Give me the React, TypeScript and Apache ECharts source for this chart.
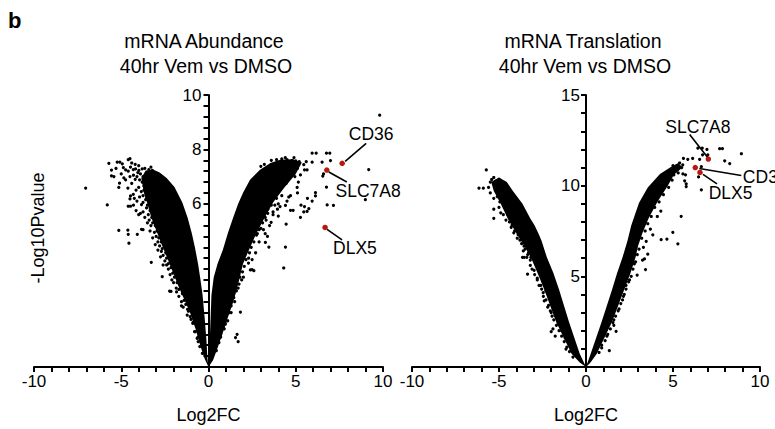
import React, { useEffect, useRef } from "react";
import * as echarts from "echarts";

const FONT = "'Liberation Sans', Arial, Helvetica, sans-serif";

// tick labels shown
const xTickLabels = [-10, -5, 0, 5, 10];
const abundanceYLabels = [6, 8, 10];
const translationYLabels = [5, 10, 15];

// Dense cores of the volcano arms (outline vertices in data units)
const abundanceNegCore: [number, number][] = [
  [0, 0], [-0.06, 0.3], [-0.12, 1.0], [-0.22, 1.8], [-0.34, 2.65], [-0.47, 3.25], [-0.6, 3.8],
  [-0.78, 4.4], [-0.95, 4.9], [-1.2, 5.5], [-1.5, 6.05], [-1.95, 6.62], [-2.4, 6.95], [-2.8, 7.15],
  [-3.15, 7.25], [-3.6, 7.22], [-3.85, 6.95], [-3.7, 6.4], [-3.5, 6.0], [-3.28, 5.5], [-2.98, 5.0],
  [-2.68, 4.5], [-2.36, 4.0], [-2.05, 3.5], [-1.74, 3.0], [-1.4, 2.5], [-1.06, 2.0], [-0.74, 1.4],
  [-0.48, 0.8], [-0.22, 0.3],
];
const abundancePosCore: [number, number][] = [
  [0, 0], [0.05, 0.6], [0.1, 1.45], [0.17, 2.65], [0.3, 3.3], [0.52, 3.8], [0.82, 4.3], [1.1, 4.9],
  [1.4, 5.47], [1.7, 6.0], [1.98, 6.41], [2.38, 6.88], [2.95, 7.25], [3.55, 7.5], [4.1, 7.62],
  [4.8, 7.64], [5.35, 7.52], [5.0, 7.1], [4.35, 6.6], [3.7, 6.05], [3.2, 5.47], [2.72, 4.88],
  [2.32, 4.3], [1.98, 3.8], [1.68, 3.0], [1.42, 2.4], [1.1, 1.8], [0.84, 1.3], [0.52, 0.7], [0.26, 0.25],
];
const translationNegCore: [number, number][] = [
  [0, 0], [-0.36, 0.73], [-0.98, 2.5], [-1.55, 4.27], [-1.88, 5.2], [-2.25, 6.05], [-2.55, 6.95],
  [-2.7, 7.3], [-2.95, 7.8], [-3.2, 8.19], [-3.65, 9.0], [-4.2, 9.7], [-4.55, 10.2], [-5.0, 10.45],
  [-5.45, 10.2], [-5.3, 9.7], [-4.9, 9.0], [-4.5, 8.19], [-3.95, 7.29], [-3.5, 6.6], [-3.15, 6.0],
  [-2.75, 5.1], [-2.4, 4.27], [-1.72, 2.5], [-0.84, 0.75], [-0.36, 0.25],
];
const translationPosCore: [number, number][] = [
  [0, 0], [0.27, 0.73], [0.9, 2.5], [1.5, 4.27], [1.78, 5.16], [2.1, 6.05], [2.38, 6.95],
  [2.6, 7.8], [2.85, 8.5], [3.05, 9.06], [3.55, 9.9], [4.25, 10.65], [4.9, 11.05], [5.3, 11.25],
  [5.55, 11.0], [5.05, 10.6], [4.7, 10.0], [4.1, 9.1], [3.6, 8.2], [3.25, 7.4], [3.0, 6.7],
  [2.85, 6.05], [2.55, 5.16], [2.2, 4.27], [1.5, 2.5], [0.62, 0.73], [0.26, 0.25],
];

// Individual genes outside the dense cores
const abundancePoints: [number, number][] = [
  [-7.04, 6.58], [-5.8, 5.96], [-5.71, 7.49], [-5.56, 7.24], [-5.56, 7.03], [-5.42, 7.0], [-5.23, 7.53],
  [-5.08, 7.53], [-4.94, 7.47], [-4.6, 7.62], [-4.5, 7.66], [-4.88, 7.33], [-4.75, 7.25], [-4.6, 7.2],
  [-4.47, 7.35], [-4.31, 7.26], [-4.18, 7.28], [-4.05, 7.15], [-3.99, 7.23], [-3.8, 7.28], [-3.65, 7.3],
  [-3.42, 7.26], [-3.22, 7.23], [-5.1, 6.76], [-5.14, 6.6], [-4.75, 6.88], [-4.62, 6.58], [-4.47, 6.29],
  [-4.5, 6.18], [-4.47, 5.91], [-4.6, 5.91], [-4.31, 6.35], [-3.84, 5.97], [-3.75, 6.05], [-4.0, 5.6],
  [-3.9, 5.65], [-3.75, 5.7], [-4.5, 7.0], [-4.3, 7.05], [-4.1, 7.0], [-3.95, 6.88], [-3.75, 7.0],
  [-3.6, 6.85], [-4.0, 6.6], [-3.85, 6.45], [-3.75, 6.3], [-3.6, 6.15], [-3.55, 5.85], [-3.45, 5.6],
  [-3.4, 5.4], [-3.3, 5.2], [-3.2, 5.3], [-3.1, 4.95], [-3.0, 4.8], [-2.9, 4.6], [-2.8, 4.45],
  [-2.7, 4.25], [-2.6, 4.1], [-2.5, 3.9], [-2.4, 3.75], [-2.3, 3.6], [-2.2, 3.4], [-2.1, 3.2],
  [-2.0, 3.1], [-1.85, 2.9], [-1.7, 2.6], [-1.55, 2.4], [-1.45, 2.2],
  [-5.14, 5.02], [-4.62, 5.03], [-4.6, 4.88], [-4.56, 4.55], [-4.08, 4.88], [-3.84, 5.06], [-3.75, 5.05],
  [-3.28, 3.85], [-2.65, 3.32], [-2.23, 2.79], [-2.15, 2.78], [-1.83, 2.76], [-1.55, 2.25], [-1.2, 2.12],
  [-1.1, 2.12], [-1.22, 1.91], [-0.88, 1.64], [-0.59, 0.93], [-1.0, 1.75], [-0.8, 1.3], [-0.65, 1.05],
  [-3.8, 6.8], [-3.7, 6.5], [-3.55, 6.2], [-3.5, 5.95], [-3.35, 5.75], [-3.25, 5.5], [-3.05, 5.2],
  [-2.95, 5.0], [-2.85, 4.75], [-2.7, 4.6], [-2.65, 4.35], [-2.45, 4.2], [-2.4, 4.0], [-2.3, 3.8],
  [-2.15, 3.65], [-2.05, 3.45], [-1.95, 3.3], [-1.8, 3.1], [-1.7, 2.85], [-1.5, 2.7], [-1.4, 2.45],
  [-1.3, 2.3], [-1.15, 2.05], [-1.05, 1.85], [-0.9, 1.6], [-0.75, 1.3], [-0.6, 1.1], [-0.5, 0.75],
  [-0.35, 0.5], [-4.2, 7.45], [-4.4, 7.5], [-4.0, 7.4], [-3.9, 7.1], [-4.2, 6.9], [-4.4, 6.75],
  [-4.15, 6.5], [-3.95, 6.25], [-4.1, 6.1], [-3.7, 6.65], [-3.5, 7.05], [-3.3, 7.35], [-5.3, 7.3],
  [-5.0, 7.1], [-4.85, 6.95], [-4.25, 6.2], [-4.3, 5.95], [-4.15, 5.75], [-3.65, 5.5], [-3.5, 5.3],
  [-3.35, 5.0], [-3.2, 4.75], [-3.05, 4.5], [-2.9, 4.3], [-2.75, 4.05], [-2.6, 3.75],
  [3.6, 7.6], [3.9, 7.62], [4.2, 7.65], [4.5, 7.62], [4.8, 7.6], [5.0, 7.58], [5.2, 7.55], [5.46, 7.44],
  [5.6, 7.55], [5.94, 7.53], [4.9, 7.7], [4.4, 7.7], [3.2, 7.45], [3.0, 7.38],
  [5.94, 7.86], [6.17, 7.86], [6.76, 7.86], [6.95, 7.86], [6.99, 7.59], [6.51, 7.53], [9.18, 7.26], [9.81, 9.26],
  [6.59, 7.1], [6.55, 7.02], [6.76, 6.61], [6.13, 6.41], [6.13, 6.29], [6.8, 5.96], [7.16, 5.94],
  [8.99, 6.15], [5.67, 6.2], [5.94, 6.1], [5.75, 5.82], [5.65, 5.72], [5.27, 5.5], [5.46, 5.7],
  [5.3, 5.95], [5.5, 5.9], [4.7, 5.76], [4.85, 5.76], [4.41, 5.94], [4.5, 6.1], [4.6, 6.25], [4.2, 6.3],
  [4.7, 6.3], [5.1, 6.4], [5.08, 6.6], [5.15, 6.8], [5.27, 7.06], [5.5, 7.25], [5.65, 7.25], [4.95, 7.0],
  [4.6, 6.9], [4.3, 6.7], [3.59, 5.32], [4.45, 5.25], [3.7, 5.6], [3.95, 5.8], [4.1, 5.9], [3.4, 5.65],
  [3.7, 5.7], [4.0, 5.55], [3.26, 4.58], [3.46, 4.41], [4.41, 4.41], [4.31, 3.64], [2.5, 3.58],
  [2.6, 3.54], [2.4, 3.57], [3.15, 5.05], [3.25, 4.9], [3.38, 4.8], [2.9, 4.6], [2.7, 4.2],
  [2.5, 3.95], [2.3, 4.0], [2.0, 3.3], [1.83, 2.02], [1.64, 1.2], [1.55, 1.08], [1.7, 0.93], [0.97, 1.58],
  [1.16, 2.23], [1.45, 2.7], [2.29, 3.82], [1.9, 3.2], [1.7, 2.9], [1.5, 2.4], [1.3, 2.0], [1.1, 1.7],
  [0.9, 1.4], [0.7, 1.1], [3.6, 6.15], [3.9, 6.2], [3.8, 5.95], [4.0, 6.0], [3.3, 5.4], [3.5, 5.2],
  [3.0, 5.1], [2.8, 4.9],
  [5.1, 7.3], [4.7, 7.05], [4.45, 6.75], [4.0, 6.5], [3.85, 6.3], [3.6, 5.95], [3.4, 5.8], [3.25, 5.5],
  [3.1, 5.3], [2.9, 5.05], [2.75, 4.85], [2.6, 4.6], [2.45, 4.4], [2.35, 4.2], [2.15, 3.95], [2.05, 3.7],
  [1.95, 3.5], [1.8, 3.3], [1.75, 3.05], [1.6, 2.8], [1.45, 2.55], [1.3, 2.25], [1.2, 2.0], [1.05, 1.95],
  [0.95, 1.65], [0.85, 1.45], [0.7, 1.2], [0.6, 0.9], [0.45, 0.6],
];

const translationPoints: [number, number][] = [
  [-5.73, 10.87], [-6.15, 9.86], [-5.9, 9.86], [-5.6, 9.9], [-5.42, 10.34], [-5.3, 10.45], [-5.5, 10.2],
  [-5.2, 10.25], [-5.0, 10.35], [-4.9, 10.2], [-4.7, 10.0], [-5.3, 8.7], [-5.3, 8.2], [-5.1, 9.4],
  [-4.95, 9.1], [-4.8, 9.3], [-4.6, 8.9], [-4.9, 8.5], [-4.5, 8.4], [-4.4, 8.0], [-4.25, 7.82],
  [-4.03, 7.66], [-4.1, 7.5], [-3.9, 7.3], [-3.8, 7.0], [-3.56, 6.66], [-3.65, 6.05], [-3.17, 6.05],
  [-3.55, 6.05], [-3.4, 6.05], [-3.36, 5.12], [-2.98, 5.33], [-2.79, 5.5], [-2.9, 5.7], [-2.4, 3.65],
  [-2.46, 4.1], [-2.31, 4.2], [-2.0, 1.95], [-1.9, 2.1], [-1.77, 1.7], [-1.15, 0.99], [-1.77, 2.86],
  [-2.2, 3.3], [-2.0, 3.0], [-1.6, 2.4], [-1.4, 2.0], [-1.2, 1.6], [-0.9, 1.2], [-2.6, 4.5],
  [-2.8, 4.9], [-3.2, 5.6], [-3.3, 6.3], [-3.5, 6.5],
  [-5.5, 9.6], [-5.3, 9.3], [-5.0, 8.8], [-4.75, 8.4], [-4.6, 8.1], [-4.3, 7.7], [-4.15, 7.4],
  [-3.95, 7.1], [-3.7, 6.8], [-3.6, 6.4], [-3.35, 6.2], [-3.2, 5.9], [-3.1, 5.4], [-2.95, 5.1],
  [-2.8, 4.8], [-2.7, 4.5], [-2.55, 4.3], [-2.45, 3.9], [-2.3, 3.7], [-2.15, 3.4], [-2.05, 3.1],
  [-1.95, 2.8], [-1.85, 2.6], [-1.7, 2.3], [-1.55, 2.0], [-1.4, 1.7], [-1.25, 1.4], [-1.1, 1.1],
  [-0.95, 0.85], [-0.75, 0.55],
  [7.68, 12.04], [7.84, 12.04], [8.93, 11.76], [6.43, 12.07], [6.68, 12.07], [6.95, 12.0], [7.0, 11.7],
  [6.7, 11.7], [7.97, 11.37], [8.26, 11.22], [6.53, 11.45], [6.13, 11.5], [5.85, 11.45], [5.6, 11.5],
  [5.38, 11.25], [5.5, 11.0], [5.56, 11.15], [6.63, 11.05], [6.47, 10.48], [6.63, 9.77], [5.57, 10.65],
  [5.72, 10.6], [5.76, 10.1], [5.67, 10.27], [5.76, 9.95], [5.47, 8.31], [4.99, 7.43], [5.28, 6.79],
  [4.32, 7.02], [4.65, 7.05], [3.84, 7.29], [3.46, 6.93], [3.55, 6.22], [3.25, 5.9], [3.36, 5.96],
  [3.42, 5.37], [2.94, 5.07], [2.78, 5.69], [2.3, 4.5], [2.2, 4.0], [2.1, 3.7], [1.73, 1.97], [1.6, 2.3],
  [1.34, 0.9], [5.0, 11.1], [5.2, 10.9], [4.8, 10.7], [5.05, 10.6], [4.6, 10.3], [4.4, 9.9], [4.2, 9.7],
  [4.0, 9.2], [3.9, 9.4], [3.7, 8.9], [3.5, 8.4], [3.3, 8.1], [3.1, 7.6], [3.0, 7.2], [2.9, 6.8],
  [4.3, 8.6], [4.1, 8.3], [3.7, 7.6], [3.3, 6.6], [2.5, 4.8], [1.9, 3.2], [1.6, 2.6], [1.2, 1.7], [0.9, 1.2],
  [5.3, 10.7], [4.95, 10.3], [4.75, 9.9], [4.45, 9.5], [4.2, 9.1], [3.95, 8.8], [3.75, 8.3], [3.55, 7.9],
  [3.4, 7.5], [3.2, 7.1], [3.05, 6.5], [2.95, 6.2], [2.85, 5.8], [2.7, 5.4], [2.6, 5.0], [2.45, 4.7],
  [2.3, 4.3], [2.15, 3.9], [2.0, 3.5], [1.85, 3.1], [1.7, 2.8], [1.55, 2.45], [1.4, 2.1], [1.25, 1.8],
  [1.1, 1.45], [0.9, 1.05], [0.75, 0.8],
];

// highlighted genes
const abundanceGenes = ["CD36", "SLC7A8", "DLX5"];
const abundanceGeneValues: [number, number][] = [[7.66, 7.49], [6.78, 7.24], [6.68, 5.13]];
const translationGenes = ["SLC7A8", "CD36", "DLX5"];
const translationGeneValues: [number, number][] = [[7.03, 11.47], [6.28, 11.0], [6.55, 10.73]];

// annotation layout in pixels relative to point: [lineStartDx, lineStartDy, lineEndDx, lineEndDy, textDx, textDy, align]
const abundanceLabelLayout: [number, number, number, number, number, number, string][] = [
  [3, -2, 24, -20, 6.6, -29, "left"],
  [2, 2, 20, 12, 8.7, 21, "left"],
  [2, 2, 17, 12.5, 8, 20.6, "left"],
];
const translationLabelLayout: [number, number, number, number, number, number, string][] = [
  [-1, -2, -18.7, -24.6, -10.5, -32, "center"],
  [4, 1, 46, 8, 47.6, 9.7, "left"],
  [3, 2, 17, 11.4, 8.7, 20.7, "left"],
];

function polygonSeries(verts: [number, number][], idx: number) {
  return {
    type: "custom",
    xAxisIndex: idx,
    yAxisIndex: idx,
    silent: true,
    z: 2,
    data: verts,
    encode: { x: 0, y: 1 },
    renderItem: (params: any, api: any) => {
      if (params.dataIndex !== 0) return null;
      const pts = verts.map((v) => api.coord(v));
      return { type: "polygon", shape: { points: pts }, style: { fill: "#000" } };
    },
  };
}

function annotationSeries(names: string[], values: [number, number][], layout: any[], idx: number) {
  return {
    type: "custom",
    xAxisIndex: idx,
    yAxisIndex: idx,
    silent: true,
    z: 6,
    clip: false,
    data: values,
    encode: { x: 0, y: 1 },
    renderItem: (params: any, api: any) => {
      const i = params.dataIndex;
      const p = api.coord(values[i]);
      const l = layout[i];
      return {
        type: "group",
        children: [
          {
            type: "line",
            shape: { x1: p[0] + l[0], y1: p[1] + l[1], x2: p[0] + l[2], y2: p[1] + l[3] },
            style: { stroke: "#000", lineWidth: 1.6 },
          },
          {
            type: "text",
            x: p[0] + l[4],
            y: p[1] + l[5],
            style: {
              text: names[i],
              fill: "#000",
              fontSize: 17.5,
              fontFamily: FONT,
              align: l[6],
              verticalAlign: "middle",
            },
          },
        ],
      };
    },
  };
}

function makeXAxis(idx: number) {
  return {
    type: "value",
    gridIndex: idx,
    min: -10,
    max: 10,
    interval: 1,
    name: "Log2FC",
    nameLocation: "middle",
    nameGap: 39,
    nameTextStyle: { fontSize: 18, color: "#000", fontFamily: FONT },
    axisLine: { onZero: false, lineStyle: { color: "#000", width: 2 } },
    axisTick: { show: true, length: 5, lineStyle: { color: "#000", width: 2 } },
    axisLabel: {
      color: "#000",
      fontSize: 17,
      fontFamily: FONT,
      margin: 6,
      formatter: (v: number) => (xTickLabels.includes(Math.round(v)) ? String(Math.round(v)) : ""),
    },
    splitLine: { show: false },
  };
}

function makeYAxis(idx: number, max: number, interval: number, labels: number[], margin: number, offset: number) {
  return {
    type: "value",
    gridIndex: idx,
    min: 0,
    max,
    interval,
    position: "left",
    offset,
    axisLine: { onZero: false, lineStyle: { color: "#000", width: 2 } },
    axisTick: { show: true, length: 5, lineStyle: { color: "#000", width: 2 } },
    axisLabel: {
      color: "#000",
      fontSize: 17,
      fontFamily: FONT,
      margin,
      formatter: (v: number) => {
        const r = Math.round(v * 10) / 10;
        return labels.includes(r) ? String(r) : "";
      },
    },
    splitLine: { show: false },
  };
}

export default function App() {
  const ref = useRef<HTMLDivElement>(null);
  useEffect(() => {
    if (!ref.current) return;
    const chart = echarts.init(ref.current, undefined, { renderer: "svg" });
    const titleStyle = { fontSize: 19.5, fontFamily: FONT, fill: "#000" };
    const dot = { color: "#000", opacity: 1 };
    const red = { color: "#b8180d", opacity: 1 };
    chart.setOption({
      animation: false,
      backgroundColor: "#fff",
      grid: [
        { left: 34, top: 95, width: 349, height: 283 },
        { left: 412, top: 95, width: 348, height: 282 },
      ],
      xAxis: [makeXAxis(0), makeXAxis(1)],
      yAxis: [
        makeYAxis(0, 10, 0.4, abundanceYLabels, 7, -174.5),
        makeYAxis(1, 15, 1, translationYLabels, 6, -174),
      ],
      graphic: [
        { type: "text", x: 8, y: 9, style: { text: "b", fontSize: 22, fontWeight: "bold", fontFamily: FONT, fill: "#000" } },
        { type: "text", x: 204, y: 41, style: { ...titleStyle, text: "mRNA Abundance", align: "center", textAlign: "center", verticalAlign: "middle", textVerticalAlign: "middle" } },
        { type: "text", x: 206, y: 66, style: { ...titleStyle, text: "40hr Vem vs DMSO", align: "center", textAlign: "center", verticalAlign: "middle", textVerticalAlign: "middle" } },
        { type: "text", x: 583, y: 41, style: { ...titleStyle, text: "mRNA Translation", align: "center", textAlign: "center", verticalAlign: "middle", textVerticalAlign: "middle" } },
        { type: "text", x: 585, y: 66, style: { ...titleStyle, text: "40hr Vem vs DMSO", align: "center", textAlign: "center", verticalAlign: "middle", textVerticalAlign: "middle" } },
        {
          type: "text", x: 38, y: 228, rotation: Math.PI / 2,
          style: { text: "-Log10Pvalue", fontSize: 18, fontFamily: FONT, fill: "#000", align: "center", textAlign: "center", verticalAlign: "middle", textVerticalAlign: "middle" },
        },
      ],
      series: [
        polygonSeries(abundanceNegCore, 0),
        polygonSeries(abundancePosCore, 0),
        polygonSeries(translationNegCore, 1),
        polygonSeries(translationPosCore, 1),
        { type: "scatter", xAxisIndex: 0, yAxisIndex: 0, z: 3, silent: true, symbolSize: 3.2, itemStyle: dot, data: abundancePoints },
        { type: "scatter", xAxisIndex: 1, yAxisIndex: 1, z: 3, silent: true, symbolSize: 3.2, itemStyle: dot, data: translationPoints },
        { type: "scatter", xAxisIndex: 0, yAxisIndex: 0, z: 4, silent: true, symbolSize: 5.5, itemStyle: red, data: abundanceGeneValues },
        { type: "scatter", xAxisIndex: 1, yAxisIndex: 1, z: 4, silent: true, symbolSize: 5.5, itemStyle: red, data: translationGeneValues },
        annotationSeries(abundanceGenes, abundanceGeneValues, abundanceLabelLayout, 0),
        annotationSeries(translationGenes, translationGeneValues, translationLabelLayout, 1),
      ],
    });
    return () => chart.dispose();
  }, []);
  return <div ref={ref} style={{ position: "fixed", left: 0, top: 0, width: 775, height: 429 }} />;
}
